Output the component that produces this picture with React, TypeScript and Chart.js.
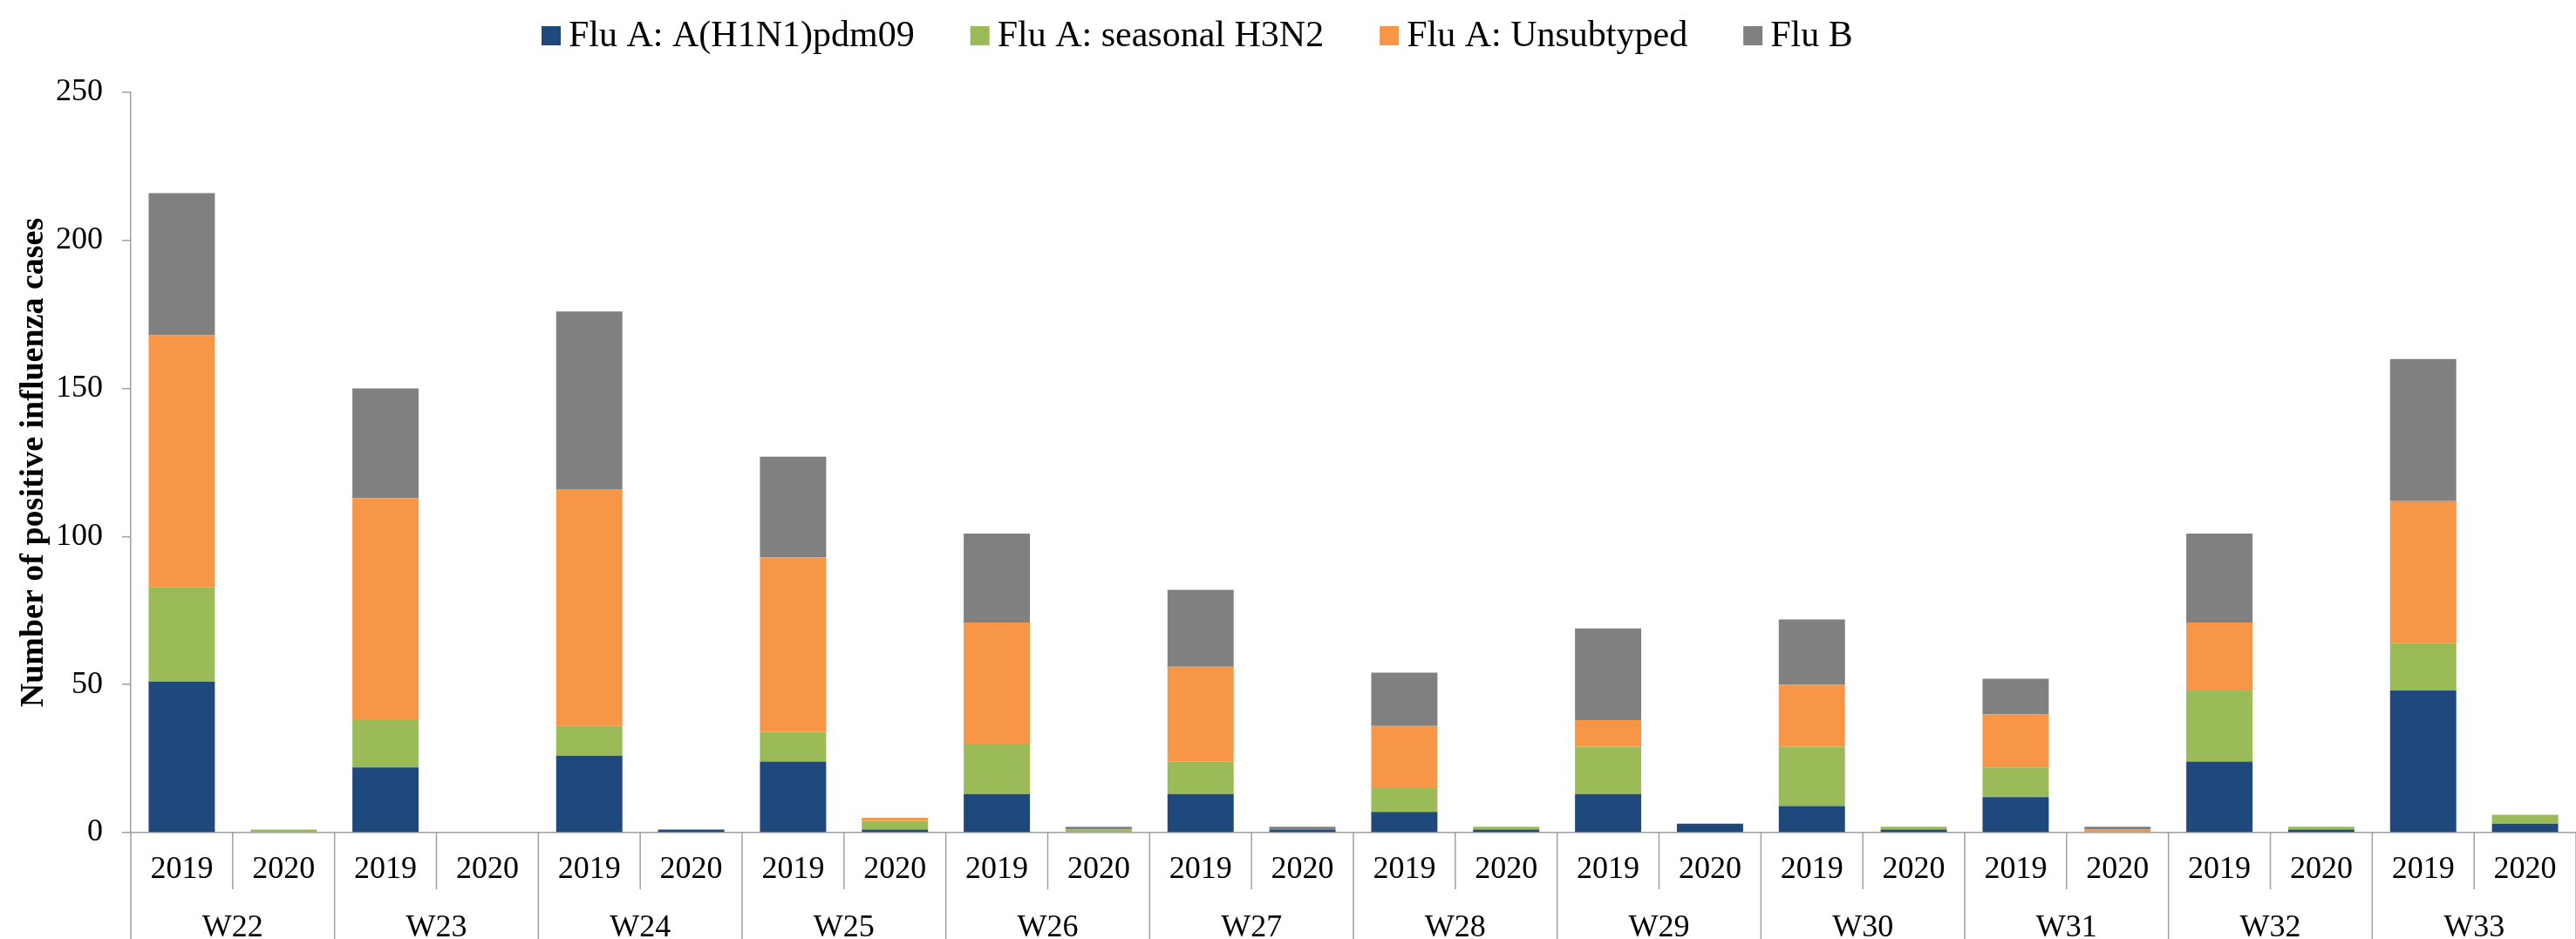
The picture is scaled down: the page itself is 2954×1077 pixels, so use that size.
import React, { useEffect, useRef } from 'react';
import { Chart, registerables } from 'chart.js';

Chart.register(...registerables);

const weeks = ['W22', 'W23', 'W24', 'W25', 'W26', 'W27', 'W28', 'W29', 'W30', 'W31', 'W32', 'W33'];
const years = ['2019', '2020'];
const seriesNames = ['Flu A: A(H1N1)pdm09', 'Flu A: seasonal H3N2', 'Flu A: Unsubtyped', 'Flu B'];
const seriesColors = ['#1F497D', '#9BBB59', '#F79646', '#808080'];

// order: W22-2019, W22-2020, W23-2019, W23-2020, ...
const h1n1 = [51, 0, 22, 0, 26, 1, 24, 1, 13, 0, 13, 1, 7, 1, 13, 3, 9, 1, 12, 0, 24, 1, 48, 3];
const h3n2 = [32, 1, 16, 0, 10, 0, 10, 3, 17, 1, 11, 0, 8, 1, 16, 0, 20, 1, 10, 0, 24, 1, 16, 3];
const unsubtyped = [85, 0, 75, 0, 80, 0, 59, 1, 41, 0, 32, 0, 21, 0, 9, 0, 21, 0, 18, 1, 23, 0, 48, 0];
const fluB = [48, 0, 37, 0, 60, 0, 34, 0, 30, 1, 26, 1, 18, 0, 31, 0, 22, 0, 12, 1, 30, 0, 48, 0];

const yTicks = [0, 50, 100, 150, 200, 250];
const yTitle = 'Number of positive influenza cases';

const FONT = '"Liberation Serif", "Times New Roman", serif';
const AXIS_COLOR = '#a0a0a0';

const legendPlugin = {
  id: 'customLegend',
  afterDraw(chart: any) {
    const ctx = chart.ctx;
    ctx.save();
    ctx.font = `42px ${FONT}`;
    ctx.textBaseline = 'alphabetic';
    let x = 621;
    chart.data.datasets.forEach((ds: any) => {
      ctx.fillStyle = ds.backgroundColor;
      ctx.fillRect(x, 30, 22, 22);
      x += 31;
      ctx.fillStyle = '#000';
      ctx.fillText(ds.label, x, 53);
      x += ctx.measureText(ds.label).width + 64;
    });
    ctx.restore();
  },
};

const groupAxisPlugin = {
  id: 'groupAxis',
  afterDraw(chart: any) {
    const ctx = chart.ctx;
    const xs = chart.scales.x;
    const n = chart.data.labels.length;
    const w = (xs.right - xs.left) / n;
    const y0 = xs.top;
    ctx.save();
    ctx.strokeStyle = AXIS_COLOR;
    ctx.lineWidth = 1.5;
    for (let i = 0; i <= n; i++) {
      const x = xs.left + i * w;
      ctx.beginPath();
      ctx.moveTo(x, y0);
      ctx.lineTo(x, i % 2 === 0 ? chart.height : y0 + 65);
      ctx.stroke();
    }
    ctx.fillStyle = '#000';
    ctx.font = `36px ${FONT}`;
    ctx.textAlign = 'center';
    ctx.textBaseline = 'alphabetic';
    weeks.forEach((wk, i) => {
      const cx = xs.left + (i * 2 + 1) * w;
      ctx.fillText(wk, cx, 1074);
    });
    ctx.restore();
  },
};

export default function App() {
  const ref = useRef<HTMLCanvasElement | null>(null);
  useEffect(() => {
    if (!ref.current) return;
    const labels = weeks.flatMap(() => years);
    const data = [h1n1, h3n2, unsubtyped, fluB];
    const chart = new Chart(ref.current, {
      type: 'bar',
      data: {
        labels,
        datasets: seriesNames.map((name, i) => ({
          label: name,
          data: data[i],
          backgroundColor: seriesColors[i],
          borderWidth: 0,
          barPercentage: 0.65,
          categoryPercentage: 1,
        })),
      },
      options: {
        animation: false,
        responsive: true,
        maintainAspectRatio: false,
        devicePixelRatio: 1,
        layout: { padding: { top: 106, left: 0, right: 0, bottom: 0 } },
        plugins: {
          legend: { display: false },
          tooltip: { enabled: false },
        },
        scales: {
          x: {
            stacked: true,
            grid: { display: false },
            border: { display: true, color: AXIS_COLOR, width: 1.5 },
            ticks: {
              color: '#000',
              font: { family: FONT, size: 36 },
              padding: 13,
              maxRotation: 0,
              autoSkip: false,
            },
            afterFit(scale: any) {
              scale.height = 122;
            },
          },
          y: {
            stacked: true,
            min: 0,
            max: 250,
            afterBuildTicks(scale: any) {
              scale.ticks = yTicks.map((v) => ({ value: v }));
            },
            grid: {
              drawOnChartArea: false,
              drawTicks: true,
              tickLength: 10,
              color: AXIS_COLOR,
              lineWidth: 1.5,
            },
            border: { display: true, color: AXIS_COLOR, width: 1.5 },
            ticks: {
              color: '#000',
              font: { family: FONT, size: 36 },
              padding: 22,
            },
            title: {
              display: true,
              text: yTitle,
              color: '#000',
              font: { family: FONT, size: 38, weight: 'bold' },
              padding: { top: 16, bottom: 0 },
            },
            afterFit(scale: any) {
              scale.width = 150;
            },
          },
        },
      },
      plugins: [legendPlugin, groupAxisPlugin],
    });
    return () => chart.destroy();
  }, []);
  return (
    <div style={{ position: 'fixed', left: 0, top: 0, width: 2954, height: 1077, background: '#fff' }}>
      <canvas ref={ref} />
    </div>
  );
}
